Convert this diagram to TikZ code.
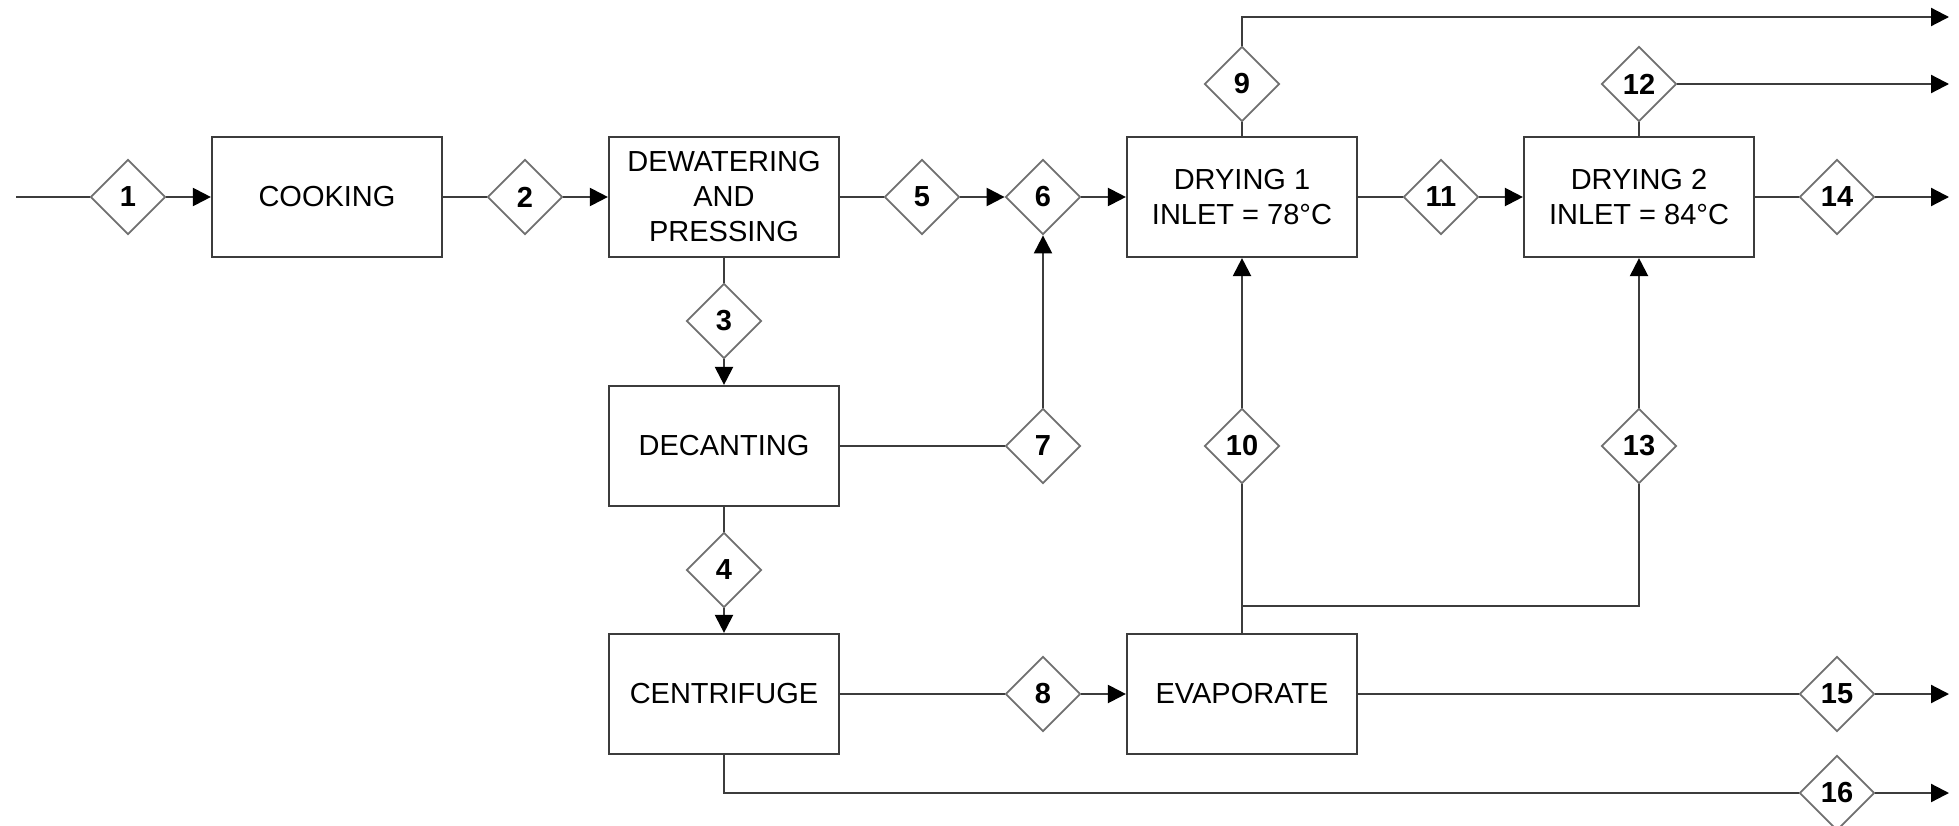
\documentclass[tikz,border=0pt]{standalone}
\usepackage{fontspec}
\setmainfont{Liberation Sans}
\usetikzlibrary{shapes.geometric,arrows.meta}
\definecolor{linegray}{HTML}{3C3C3C}
\definecolor{diagray}{HTML}{707070}
\begin{document}
\begin{tikzpicture}[x=1pt,y=-1pt,
  unit/.style={draw=linegray,line width=2.2pt,fill=white,minimum width=230pt,minimum height=120pt,
    inner sep=0pt,align=center,font=\fontsize{29}{35}\selectfont},
  stream/.style={diamond,aspect=1,draw=diagray,line width=1.8pt,fill=white,minimum size=75pt,
    inner sep=0pt,font=\fontsize{29}{35}\selectfont\bfseries},
  pipe/.style={draw=linegray,line width=2.2pt},
  flow/.style={pipe,-{Triangle[length=18pt,width=18pt,color=black]}}]
\useasboundingbox (0,0) rectangle (1959,826);

% process units
\node[unit] (cook) at (327,197) {COOKING};
\node[unit] (dew)  at (724,197) {DEWATERING\\AND\\PRESSING};
\node[unit] (dec)  at (724,446) {DECANTING};
\node[unit] (cent) at (724,694) {CENTRIFUGE};
\node[unit] (dry1) at (1242,197) {DRYING 1\\INLET = 78°C};
\node[unit] (dry2) at (1639,197) {DRYING 2\\INLET = 84°C};
\node[unit] (evap) at (1242,694) {EVAPORATE};

% stream markers
\node[stream] (s1)  at (128,197)  {1};
\node[stream] (s2)  at (525,197)  {2};
\node[stream] (s3)  at (724,321)  {3};
\node[stream] (s4)  at (724,570)  {4};
\node[stream] (s5)  at (922,197)  {5};
\node[stream] (s6)  at (1043,197) {6};
\node[stream] (s7)  at (1043,446) {7};
\node[stream] (s8)  at (1043,694) {8};
\node[stream] (s9)  at (1242,84)  {9};
\node[stream] (s10) at (1242,446) {10};
\node[stream] (s11) at (1441,197) {11};
\node[stream] (s12) at (1639,84)  {12};
\node[stream] (s13) at (1639,446) {13};
\node[stream] (s14) at (1837,197) {14};
\node[stream] (s15) at (1837,694) {15};
\node[stream] (s16) at (1837,793) {16};

% free ends and bends
\coordinate (feed)  at (16,197);
\coordinate (top9)  at (1242,17);
\coordinate (out9)  at (1949,17);
\coordinate (out12) at (1949,84);
\coordinate (out14) at (1949,197);
\coordinate (out15) at (1949,694);
\coordinate (out16) at (1949,793);
\coordinate (split) at (1242,606);
\coordinate (bend13) at (1639,606);
\coordinate (bend16) at (724,793);

% main line
\draw[pipe] (feed) -- (s1.west);
\draw[flow] (s1.east) -- (cook.west);
\draw[pipe] (cook.east) -- (s2.west);
\draw[flow] (s2.east) -- (dew.west);
\draw[pipe] (dew.east) -- (s5.west);
\draw[flow] (s5.east) -- (s6.west);
\draw[flow] (s6.east) -- (dry1.west);
\draw[pipe] (dry1.east) -- (s11.west);
\draw[flow] (s11.east) -- (dry2.west);
\draw[pipe] (dry2.east) -- (s14.west);
\draw[flow] (s14.east) -- (out14);

% vapour outlets
\draw[pipe] (dry1.north) -- (s9.south);
\draw[flow] (s9.north) -- (top9) -- (out9);
\draw[pipe] (dry2.north) -- (s12.south);
\draw[flow] (s12.east) -- (out12);

% separation train
\draw[pipe] (dew.south) -- (s3.north);
\draw[flow] (s3.south) -- (dec.north);
\draw[pipe] (dec.east) -- (s7.west);
\draw[flow] (s7.north) -- (s6.south);
\draw[pipe] (dec.south) -- (s4.north);
\draw[flow] (s4.south) -- (cent.north);
\draw[pipe] (cent.east) -- (s8.west);
\draw[flow] (s8.east) -- (evap.west);

% concentrate back to the dryers
\draw[pipe] (evap.north) -- (s10.south);
\draw[flow] (s10.north) -- (dry1.south);
\draw[pipe] (split) -- (bend13) -- (s13.south);
\draw[flow] (s13.north) -- (dry2.south);

% bottom outlets
\draw[pipe] (evap.east) -- (s15.west);
\draw[flow] (s15.east) -- (out15);
\draw[pipe] (cent.south) -- (bend16) -- (s16.west);
\draw[flow] (s16.east) -- (out16);
\end{tikzpicture}
\end{document}
